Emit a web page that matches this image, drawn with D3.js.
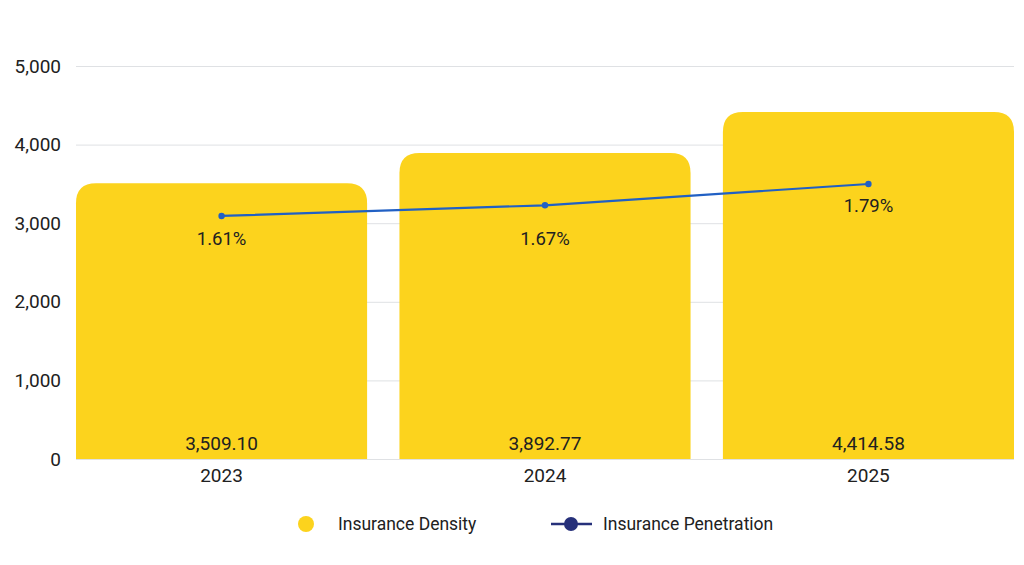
<!DOCTYPE html>
<html>
<head>
<meta charset="utf-8">
<script src="https://cdn.jsdelivr.net/npm/d3@7"></script>
<style>
    html, body { margin: 0; padding: 0; background: #fff; }
    svg { display: block; font-family: Roboto, "Noto Sans", sans-serif; }
</style>
</head>
<body>
<svg id="chart" width="1024" height="565"></svg>
<script>
// data
const years = ['2023', '2024', '2025'];
const density = [3509.10, 3892.77, 4414.58];
const penetration = [1.61, 1.67, 1.79];
const densityTicks = [0, 1000, 2000, 3000, 4000, 5000];

// label nudges under the line points
const penLabelDy = [29, 40, 28];

const width = 1024, height = 565;
const margin = { top: 66, right: 10, bottom: 106, left: 76 };
const yellow = '#fcd31d';
const lineBlue = '#2160c4';
const navy = '#26307a';
const textColor = '#212121';

const svg = d3.select('#chart');

const x = d3.scaleBand()
    .domain(years)
    .range([margin.left, width - margin.right])
    .paddingInner(0.1)
    .paddingOuter(0);

const y = d3.scaleLinear()
    .domain([0, 5000])
    .range([height - margin.bottom, margin.top]);

// hidden right axis for the percentage line
const y2 = d3.scaleLinear()
    .domain([0.24, 2.455])
    .range([height - margin.bottom, margin.top]);

// gridlines
svg.append('g')
    .selectAll('line')
    .data(densityTicks)
    .join('line')
    .attr('x1', margin.left)
    .attr('x2', width - margin.right)
    .attr('y1', d => y(d) + 0.5)
    .attr('y2', d => y(d) + 0.5)
    .attr('stroke', '#dfe1e4')
    .attr('stroke-width', 1);

// y axis labels
const yAxis = svg.append('g')
    .attr('transform', `translate(${margin.left - 15},0)`)
    .call(d3.axisLeft(y).tickValues(densityTicks).tickFormat(d3.format(',')).tickSize(0).tickPadding(0));
yAxis.select('.domain').remove();
yAxis.selectAll('text')
    .attr('font-size', 19)
    .attr('fill', textColor)
    .attr('font-family', 'Roboto, sans-serif');

// bars with rounded top corners
const r = 20;
function barPath(x0, y0, w, h) {
    const rr = Math.min(r, w / 2, h);
    return `M${x0},${y0 + h}` +
        `V${y0 + rr}` +
        `Q${x0},${y0} ${x0 + rr},${y0}` +
        `H${x0 + w - rr}` +
        `Q${x0 + w},${y0} ${x0 + w},${y0 + rr}` +
        `V${y0 + h}Z`;
}

svg.append('g')
    .selectAll('path')
    .data(density)
    .join('path')
    .attr('d', (d, i) => barPath(x(years[i]), y(d), x.bandwidth(), y(0) - y(d)))
    .attr('fill', yellow);

// bar value labels
svg.append('g')
    .selectAll('text')
    .data(density)
    .join('text')
    .attr('x', (d, i) => x(years[i]) + x.bandwidth() / 2)
    .attr('y', y(0) - 9)
    .attr('text-anchor', 'middle')
    .attr('font-size', 19)
    .attr('fill', textColor)
    .text(d => d3.format(',.2f')(d));

// x axis labels
const xAxis = svg.append('g')
    .attr('transform', `translate(0,${y(0)})`)
    .call(d3.axisBottom(x).tickSize(0).tickPadding(10));
xAxis.select('.domain').remove();
xAxis.selectAll('text')
    .attr('font-size', 19)
    .attr('fill', textColor)
    .attr('font-family', 'Roboto, sans-serif')
    .attr('dy', '0.71em');

// penetration line
const line = d3.line()
    .x((d, i) => x(years[i]) + x.bandwidth() / 2)
    .y(d => y2(d));

svg.append('path')
    .datum(penetration)
    .attr('d', line)
    .attr('fill', 'none')
    .attr('stroke', lineBlue)
    .attr('stroke-width', 2.2);

svg.append('g')
    .selectAll('circle')
    .data(penetration)
    .join('circle')
    .attr('cx', (d, i) => x(years[i]) + x.bandwidth() / 2)
    .attr('cy', d => y2(d))
    .attr('r', 3.2)
    .attr('fill', lineBlue);

svg.append('g')
    .selectAll('text')
    .data(penetration)
    .join('text')
    .attr('x', (d, i) => x(years[i]) + x.bandwidth() / 2)
    .attr('y', (d, i) => y2(d) + penLabelDy[i])
    .attr('text-anchor', 'middle')
    .attr('font-size', 18.5)
    .attr('fill', textColor)
    .text(d => d3.format('.2f')(d) + '%');

// legend
const legend = svg.append('g').attr('transform', 'translate(0,524)');
legend.append('circle')
    .attr('cx', 306).attr('cy', 0).attr('r', 8)
    .attr('fill', yellow);
legend.append('text')
    .attr('x', 338).attr('y', 0).attr('dy', '0.35em')
    .attr('font-size', 17.5).attr('fill', textColor)
    .text('Insurance Density');
legend.append('line')
    .attr('x1', 551).attr('x2', 592).attr('y1', 0).attr('y2', 0)
    .attr('stroke', navy).attr('stroke-width', 2.5);
legend.append('circle')
    .attr('cx', 571).attr('cy', 0).attr('r', 7)
    .attr('fill', navy);
legend.append('text')
    .attr('x', 603).attr('y', 0).attr('dy', '0.35em')
    .attr('font-size', 17.5).attr('fill', textColor)
    .text('Insurance Penetration');
</script>
</body>
</html>
